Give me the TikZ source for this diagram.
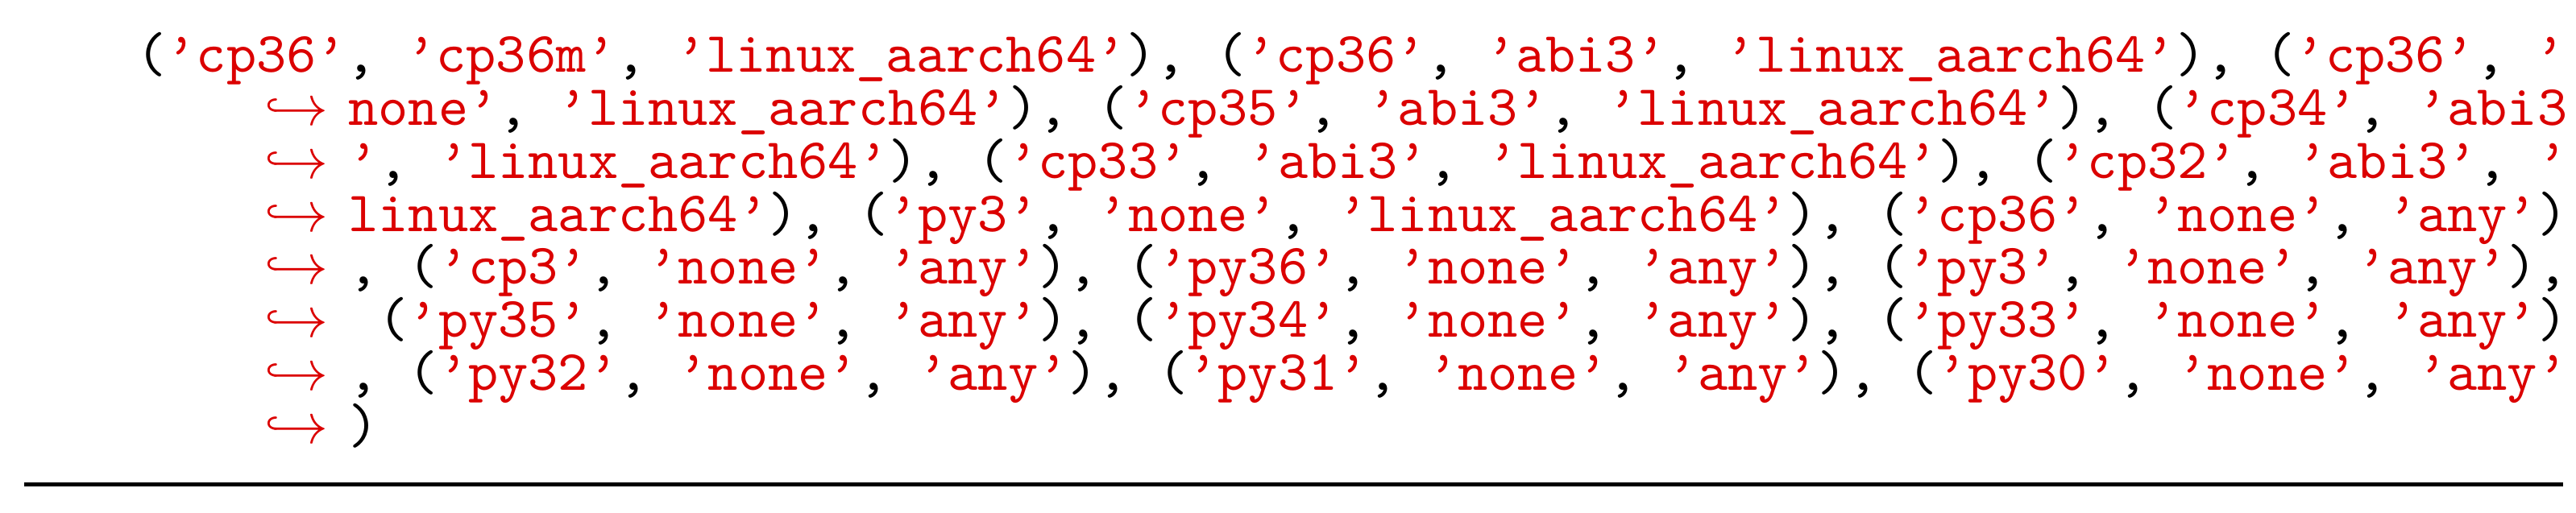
\documentclass[tikz,border=0pt]{standalone}
\usepackage{fontspec}
\definecolor{strred}{rgb}{0.86,0,0}
\newcommand{\rs}[1]{\textcolor{strred}{#1}}
\tikzset{codeline/.style={anchor=base west,inner sep=0pt,font=\ttfamily\fontsize{10}{12}\selectfont}}
\begin{document}
\begin{tikzpicture}[x=1pt,y=-1pt]
\useasboundingbox (0,0) rectangle (451,89.8);
\node[codeline] (l1) at (23.7,12.6) {(\rs{’cp36’}, \rs{’cp36m’}, \rs{’linux\_aarch64’}), (\rs{’cp36’}, \rs{’abi3’}, \rs{’linux\_aarch64’}), (\rs{’cp36’}, \rs{’}};
\node[codeline] (l2) at (60.8,21.9) {\rs{none’}, \rs{’linux\_aarch64’}), (\rs{’cp35’}, \rs{’abi3’}, \rs{’linux\_aarch64’}), (\rs{’cp34’}, \rs{’abi3}};
\node[codeline] (l3) at (60.8,31.2) {\rs{’}, \rs{’linux\_aarch64’}), (\rs{’cp33’}, \rs{’abi3’}, \rs{’linux\_aarch64’}), (\rs{’cp32’}, \rs{’abi3’}, \rs{’}};
\node[codeline] (l4) at (60.8,40.5) {\rs{linux\_aarch64’}), (\rs{’py3’}, \rs{’none’}, \rs{’linux\_aarch64’}), (\rs{’cp36’}, \rs{’none’}, \rs{’any’})};
\node[codeline] (l5) at (60.8,49.8) {, (\rs{’cp3’}, \rs{’none’}, \rs{’any’}), (\rs{’py36’}, \rs{’none’}, \rs{’any’}), (\rs{’py3’}, \rs{’none’}, \rs{’any’}),};
\node[codeline] (l6) at (60.8,59.1) {\ (\rs{’py35’}, \rs{’none’}, \rs{’any’}), (\rs{’py34’}, \rs{’none’}, \rs{’any’}), (\rs{’py33’}, \rs{’none’}, \rs{’any’})};
\node[codeline] (l7) at (60.8,68.4) {, (\rs{’py32’}, \rs{’none’}, \rs{’any’}), (\rs{’py31’}, \rs{’none’}, \rs{’any’}), (\rs{’py30’}, \rs{’none’}, \rs{’any’}};
\node[codeline] (l8) at (60.8,77.7) {)};
\foreach \i/\y in {a/21.9,b/31.2,c/40.5,d/49.8,e/59.1,f/68.4,g/77.7}
  \node[codeline,text=strred] (arr\i) at (46.1,\y) {$\hookrightarrow$};
\coordinate (rl) at (4.3,84.8);
\coordinate (rr) at (448.8,84.8);
\draw[line width=0.7pt] (rl) -- (rr);
\end{tikzpicture}
\end{document}
